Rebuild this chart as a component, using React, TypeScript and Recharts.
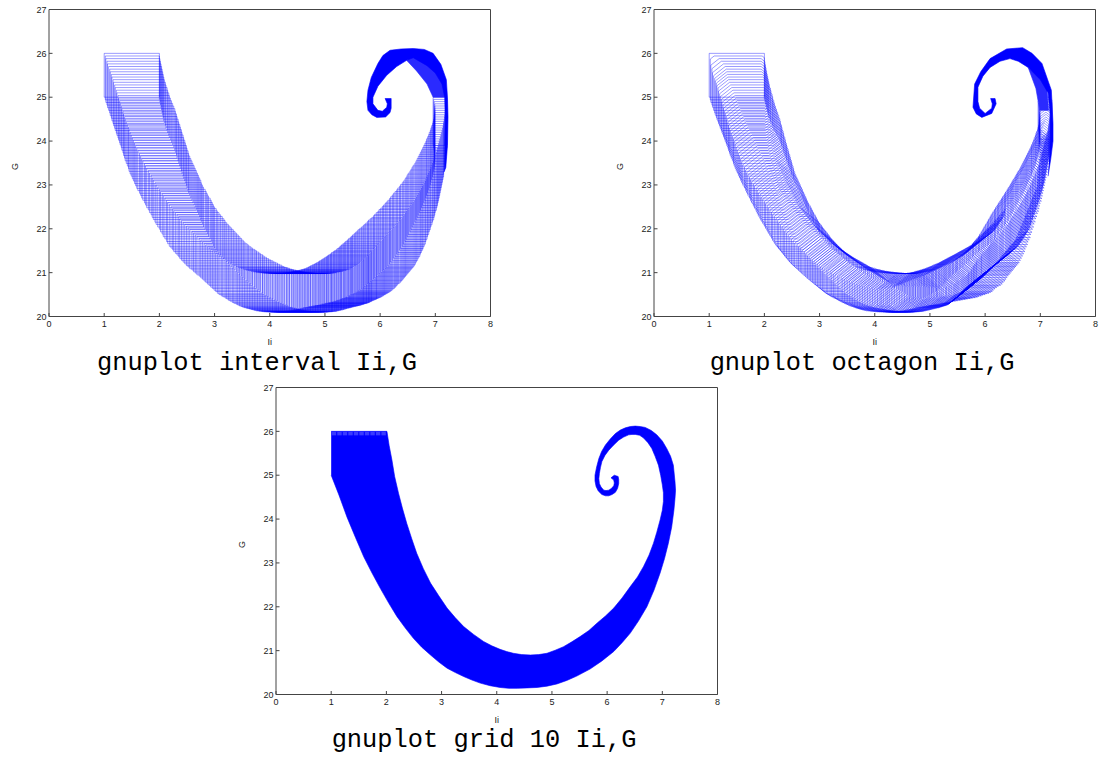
import { ComposedChart, Line, Scatter, XAxis, YAxis } from 'recharts';

const xTicks = [0, 1, 2, 3, 4, 5, 6, 7, 8];
const yTicks = [20, 21, 22, 23, 24, 25, 26, 27];
const BLUE = '#0000ff';

// box bounds per iteration
const boxXLow = [
  1.00,1.02,1.03,1.05,1.06,1.08,1.10,1.11,1.13,1.14,
  1.16,1.17,1.19,1.20,1.22,1.23,1.25,1.26,1.28,1.29,
  1.31,1.32,1.34,1.35,1.37,1.38,1.40,1.42,1.44,1.45,
  1.47,1.49,1.51,1.53,1.55,1.57,1.59,1.61,1.64,1.66,
  1.68,1.70,1.73,1.75,1.77,1.80,1.82,1.85,1.87,1.89,
  1.92,1.94,1.97,2.00,2.02,2.05,2.07,2.10,2.13,2.15,
  2.18,2.21,2.24,2.26,2.29,2.32,2.35,2.37,2.40,2.43,
  2.46,2.49,2.52,2.55,2.59,2.62,2.65,2.68,2.72,2.75,
  2.78,2.81,2.84,2.87,2.90,2.93,2.96,2.99,3.02,3.05,
  3.08,3.12,3.15,3.19,3.22,3.25,3.28,3.32,3.35,3.39,
  3.42,3.45,3.48,3.51,3.54,3.57,3.60,3.63,3.66,3.69,
  3.72,3.75,3.78,3.81,3.84,3.87,3.90,3.93,3.96,3.99,
  4.02,4.05,4.08,4.11,4.13,4.16,4.19,4.22,4.24,4.27,
  4.30,4.33,4.36,4.39,4.42,4.45,4.48,4.51,4.54,4.57,
  4.60,4.63,4.66,4.69,4.71,4.74,4.77,4.80,4.82,4.85,
  4.88,4.90,4.93,4.95,4.98,5.00,5.03,5.05,5.07,5.10,
  5.12,5.15,5.17,5.20,5.22,5.25,5.27,5.29,5.31,5.34,
  5.36,5.38,5.41,5.43,5.46,5.48,5.50,5.53,5.55,5.58,
  5.60,5.63,5.66,5.69,5.71,5.74,5.77,5.79,5.82,5.85,
  5.88,5.90,5.93,5.96,5.98,6.01,6.04,6.06,6.09,6.11,
  6.14,6.17,6.19,6.22,6.24,6.27,6.30,6.32,6.35,6.37,
  6.40,6.42,6.45,6.47,6.49,6.51,6.54,6.56,6.58,6.60,
  6.63,6.65,6.67,6.69,6.71,6.73,6.75,6.77,6.79,6.81,
  6.83,6.84,6.86,6.88,6.89,6.91,6.92,6.93,6.95,6.96,
  6.97,6.98,6.98,6.99,6.99,6.99,6.99,6.99,6.98,6.97,
  6.96,
];
const boxXHigh = [
  2.00,2.00,2.01,2.02,2.03,2.04,2.05,2.06,2.07,2.08,
  2.09,2.11,2.12,2.14,2.15,2.17,2.18,2.20,2.22,2.24,
  2.26,2.28,2.29,2.31,2.32,2.34,2.35,2.37,2.38,2.40,
  2.41,2.43,2.44,2.46,2.47,2.49,2.50,2.52,2.53,2.55,
  2.57,2.59,2.61,2.63,2.65,2.67,2.69,2.71,2.73,2.75,
  2.76,2.78,2.80,2.83,2.85,2.87,2.89,2.92,2.94,2.96,
  2.98,3.00,3.03,3.05,3.08,3.11,3.14,3.17,3.19,3.22,
  3.25,3.28,3.31,3.34,3.37,3.40,3.43,3.46,3.49,3.52,
  3.55,3.59,3.62,3.66,3.69,3.73,3.76,3.80,3.83,3.87,
  3.90,3.94,3.98,4.02,4.06,4.10,4.14,4.18,4.22,4.26,
  4.30,4.33,4.36,4.40,4.43,4.47,4.50,4.53,4.56,4.59,
  4.62,4.65,4.68,4.71,4.74,4.77,4.80,4.83,4.86,4.89,
  4.92,4.95,4.98,5.00,5.03,5.06,5.09,5.12,5.14,5.17,
  5.20,5.22,5.25,5.28,5.30,5.33,5.35,5.38,5.40,5.43,
  5.45,5.47,5.49,5.51,5.53,5.56,5.58,5.60,5.62,5.64,
  5.66,5.68,5.70,5.71,5.73,5.75,5.76,5.78,5.79,5.81,
  5.82,5.84,5.85,5.87,5.89,5.91,5.93,5.94,5.96,5.98,
  6.00,6.02,6.04,6.06,6.08,6.10,6.12,6.14,6.16,6.18,
  6.20,6.22,6.25,6.27,6.29,6.31,6.33,6.36,6.38,6.40,
  6.42,6.44,6.46,6.48,6.50,6.52,6.54,6.56,6.58,6.60,
  6.62,6.64,6.66,6.68,6.70,6.72,6.73,6.75,6.77,6.78,
  6.80,6.82,6.83,6.85,6.86,6.88,6.89,6.91,6.92,6.94,
  6.95,6.97,6.98,6.99,7.00,7.02,7.03,7.04,7.05,7.06,
  7.07,7.08,7.09,7.10,7.11,7.12,7.13,7.14,7.15,7.15,
  7.16,7.17,7.17,7.18,7.18,7.19,7.19,7.20,7.20,7.21,
  7.21,
];
const boxYLow = [
  25.00,24.94,24.88,24.82,24.76,24.70,24.64,24.58,24.52,24.46,
  24.40,24.35,24.29,24.24,24.18,24.13,24.07,24.02,23.96,23.91,
  23.85,23.79,23.73,23.67,23.61,23.55,23.49,23.43,23.37,23.31,
  23.25,23.20,23.14,23.09,23.03,22.98,22.92,22.87,22.81,22.76,
  22.70,22.65,22.59,22.54,22.48,22.43,22.37,22.32,22.26,22.21,
  22.15,22.10,22.04,21.99,21.93,21.88,21.82,21.77,21.71,21.66,
  21.60,21.56,21.52,21.48,21.44,21.40,21.36,21.32,21.28,21.24,
  21.20,21.16,21.13,21.09,21.06,21.02,20.99,20.95,20.92,20.88,
  20.85,20.81,20.78,20.74,20.71,20.67,20.64,20.60,20.57,20.53,
  20.50,20.47,20.45,20.42,20.40,20.37,20.35,20.32,20.30,20.28,
  20.26,20.24,20.23,20.21,20.20,20.19,20.18,20.17,20.16,20.15,
  20.14,20.13,20.13,20.12,20.12,20.11,20.11,20.11,20.11,20.10,
  20.10,20.10,20.10,20.10,20.10,20.10,20.11,20.11,20.11,20.12,
  20.12,20.12,20.13,20.14,20.15,20.15,20.16,20.17,20.18,20.19,
  20.20,20.20,20.21,20.22,20.22,20.23,20.24,20.24,20.25,20.25,
  20.26,20.27,20.28,20.28,20.29,20.30,20.30,20.31,20.31,20.32,
  20.33,20.34,20.35,20.36,20.37,20.38,20.39,20.40,20.41,20.42,
  20.43,20.44,20.46,20.47,20.49,20.50,20.52,20.53,20.55,20.56,
  20.58,20.60,20.63,20.65,20.68,20.71,20.74,20.76,20.79,20.82,
  20.85,20.88,20.91,20.94,20.97,21.00,21.03,21.06,21.09,21.12,
  21.15,21.19,21.24,21.28,21.33,21.37,21.42,21.46,21.51,21.55,
  21.60,21.65,21.71,21.76,21.82,21.87,21.93,21.98,22.04,22.09,
  22.15,22.20,22.26,22.31,22.37,22.42,22.48,22.53,22.59,22.64,
  22.70,22.76,22.82,22.88,22.94,23.00,23.06,23.12,23.18,23.24,
  23.30,23.36,23.42,23.48,23.54,23.60,23.66,23.72,23.78,23.84,
  23.90,
];
const boxYHigh = [
  26.00,25.94,25.88,25.82,25.76,25.70,25.64,25.58,25.52,25.46,
  25.40,25.34,25.28,25.22,25.16,25.10,25.04,24.98,24.92,24.86,
  24.80,24.74,24.68,24.62,24.56,24.50,24.44,24.38,24.32,24.26,
  24.20,24.14,24.08,24.02,23.96,23.90,23.84,23.78,23.72,23.66,
  23.60,23.55,23.49,23.44,23.38,23.33,23.27,23.22,23.16,23.11,
  23.05,23.00,22.95,22.90,22.85,22.80,22.75,22.70,22.65,22.60,
  22.55,22.50,22.46,22.41,22.37,22.32,22.28,22.23,22.19,22.14,
  22.10,22.06,22.02,21.98,21.94,21.90,21.86,21.82,21.78,21.74,
  21.70,21.66,21.63,21.59,21.56,21.53,21.50,21.47,21.44,21.41,
  21.38,21.35,21.32,21.29,21.27,21.24,21.22,21.19,21.17,21.14,
  21.12,21.11,21.10,21.08,21.07,21.06,21.05,21.04,21.03,21.02,
  21.02,21.01,21.01,21.00,21.00,20.99,20.99,20.99,20.98,20.98,
  20.98,20.98,20.98,20.98,20.98,20.98,20.98,20.98,20.99,20.99,
  21.00,21.00,21.01,21.02,21.03,21.03,21.04,21.05,21.06,21.07,
  21.08,21.09,21.11,21.12,21.14,21.16,21.18,21.19,21.21,21.23,
  21.25,21.27,21.29,21.31,21.33,21.35,21.37,21.39,21.41,21.43,
  21.46,21.48,21.50,21.52,21.55,21.57,21.60,21.62,21.65,21.67,
  21.70,21.72,21.75,21.78,21.81,21.83,21.86,21.89,21.92,21.95,
  21.98,22.01,22.04,22.07,22.10,22.13,22.17,22.20,22.23,22.26,
  22.30,22.33,22.37,22.40,22.44,22.47,22.51,22.54,22.58,22.61,
  22.65,22.69,22.73,22.77,22.81,22.85,22.89,22.93,22.97,23.01,
  23.05,23.09,23.14,23.18,23.23,23.27,23.32,23.36,23.41,23.45,
  23.50,23.55,23.60,23.65,23.70,23.75,23.80,23.85,23.90,23.95,
  24.00,24.05,24.10,24.15,24.20,24.25,24.30,24.35,24.40,24.45,
  24.50,24.55,24.60,24.65,24.70,24.75,24.80,24.85,24.90,24.95,
  25.00,
];

// diagonal bounds of the octagons (x+y and y-x), same iterations as the boxes
const sumLow = [
  26.00,25.96,25.91,25.87,25.83,25.78,25.74,25.70,25.67,25.63,
  25.60,25.56,25.53,25.49,25.46,25.42,25.39,25.35,25.32,25.28,
  25.25,25.21,25.17,25.13,25.09,25.05,25.01,24.97,24.93,24.89,
  24.85,24.81,24.78,24.74,24.71,24.67,24.64,24.60,24.57,24.53,
  24.50,24.46,24.43,24.39,24.36,24.32,24.29,24.25,24.22,24.18,
  24.15,24.12,24.09,24.06,24.03,24.00,23.97,23.94,23.91,23.88,
  23.85,23.83,23.82,23.80,23.79,23.77,23.76,23.74,23.73,23.71,
  23.70,23.69,23.69,23.68,23.68,23.67,23.67,23.66,23.66,23.65,
  23.65,23.65,23.65,23.65,23.65,23.65,23.65,23.65,23.65,23.65,
  23.65,23.66,23.67,23.68,23.70,23.71,23.72,23.73,23.75,23.76,
  23.78,23.79,23.81,23.83,23.85,23.86,23.88,23.89,23.91,23.93,
  23.95,23.98,24.02,24.05,24.09,24.12,24.16,24.19,24.23,24.26,
  24.30,24.32,24.35,24.37,24.40,24.42,24.45,24.47,24.50,24.52,
  24.55,24.59,24.63,24.67,24.71,24.75,24.79,24.83,24.87,24.91,
  24.95,24.98,25.02,25.05,25.09,25.12,25.16,25.19,25.23,25.26,
  25.30,25.34,25.38,25.42,25.46,25.50,25.54,25.58,25.62,25.66,
  25.70,25.75,25.81,25.86,25.92,25.97,26.03,26.08,26.14,26.19,
  26.25,26.30,26.35,26.40,26.45,26.50,26.55,26.60,26.65,26.70,
  26.75,26.81,26.87,26.93,26.99,27.05,27.11,27.17,27.23,27.29,
  27.35,27.40,27.45,27.50,27.55,27.60,27.65,27.70,27.75,27.80,
  27.85,27.92,27.99,28.06,28.13,28.20,28.27,28.34,28.41,28.48,
  28.55,28.62,28.70,28.77,28.85,28.92,29.00,29.07,29.15,29.22,
  29.30,29.37,29.44,29.51,29.58,29.65,29.72,29.79,29.86,29.93,
  30.00,30.07,30.14,30.21,30.28,30.35,30.42,30.49,30.56,30.63,
  30.70,30.75,30.81,30.86,30.92,30.97,31.03,31.08,31.14,31.19,
  31.25,
];
const sumHigh = [
  28.00,27.90,27.82,27.76,27.70,27.64,27.58,27.53,27.48,27.43,
  27.38,27.32,27.27,27.21,27.16,27.10,27.05,27.00,26.95,26.90,
  26.85,26.79,26.74,26.68,26.63,26.57,26.52,26.46,26.41,26.35,
  26.30,26.25,26.20,26.15,26.10,26.05,26.00,25.95,25.90,25.85,
  25.80,25.76,25.73,25.69,25.66,25.62,25.59,25.55,25.52,25.48,
  25.45,25.42,25.39,25.36,25.33,25.30,25.27,25.24,25.21,25.18,
  25.15,25.13,25.12,25.10,25.08,25.06,25.05,25.03,25.01,24.99,
  24.98,24.97,24.96,24.95,24.94,24.94,24.93,24.92,24.91,24.90,
  24.90,24.90,24.91,24.91,24.92,24.92,24.93,24.93,24.94,24.94,
  24.95,24.96,24.97,24.98,24.99,25.00,25.01,25.02,25.03,25.04,
  25.05,25.07,25.10,25.12,25.15,25.17,25.20,25.22,25.25,25.27,
  25.30,25.33,25.36,25.39,25.42,25.45,25.48,25.51,25.54,25.57,
  25.60,25.62,25.65,25.67,25.70,25.72,25.75,25.77,25.80,25.82,
  25.85,25.88,25.92,25.95,25.99,26.02,26.06,26.09,26.13,26.16,
  26.20,26.24,26.28,26.32,26.36,26.40,26.44,26.48,26.52,26.56,
  26.60,26.64,26.69,26.73,26.78,26.82,26.87,26.91,26.96,27.00,
  27.05,27.09,27.14,27.18,27.23,27.27,27.32,27.36,27.41,27.45,
  27.50,27.55,27.60,27.65,27.70,27.75,27.80,27.85,27.90,27.95,
  28.00,28.05,28.11,28.16,28.22,28.27,28.33,28.38,28.44,28.49,
  28.55,28.61,28.67,28.73,28.79,28.85,28.91,28.97,29.03,29.09,
  29.15,29.21,29.27,29.33,29.39,29.45,29.51,29.57,29.63,29.69,
  29.75,29.81,29.87,29.93,29.99,30.05,30.11,30.17,30.23,30.29,
  30.35,30.41,30.48,30.54,30.61,30.67,30.74,30.80,30.87,30.93,
  31.00,31.06,31.12,31.18,31.24,31.30,31.36,31.42,31.48,31.54,
  31.60,31.65,31.71,31.76,31.82,31.87,31.93,31.98,32.04,32.09,
  32.15,
];
const diffLow = [
  23.00,22.94,22.88,22.82,22.76,22.70,22.64,22.58,22.52,22.46,
  22.40,22.34,22.28,22.22,22.16,22.10,22.04,21.98,21.92,21.86,
  21.80,21.73,21.66,21.59,21.52,21.45,21.38,21.31,21.24,21.17,
  21.10,21.03,20.97,20.90,20.84,20.77,20.71,20.64,20.58,20.51,
  20.45,20.37,20.30,20.22,20.15,20.07,20.00,19.92,19.85,19.77,
  19.70,19.62,19.55,19.47,19.40,19.32,19.25,19.17,19.10,19.02,
  18.95,18.88,18.82,18.75,18.69,18.62,18.56,18.49,18.43,18.36,
  18.30,18.23,18.17,18.10,18.04,17.97,17.91,17.84,17.78,17.71,
  17.65,17.58,17.52,17.45,17.39,17.32,17.26,17.19,17.13,17.06,
  17.00,16.94,16.88,16.82,16.76,16.70,16.64,16.58,16.52,16.46,
  16.40,16.34,16.29,16.23,16.18,16.12,16.07,16.01,15.96,15.90,
  15.85,15.81,15.78,15.74,15.71,15.67,15.64,15.60,15.57,15.53,
  15.50,15.47,15.45,15.42,15.40,15.37,15.35,15.32,15.30,15.27,
  15.25,15.23,15.21,15.19,15.17,15.15,15.13,15.11,15.09,15.07,
  15.05,15.04,15.03,15.02,15.01,15.00,14.99,14.98,14.97,14.96,
  14.95,14.95,14.95,14.95,14.95,14.95,14.95,14.95,14.95,14.95,
  14.95,14.95,14.95,14.95,14.95,14.95,14.95,14.95,14.95,14.95,
  14.95,14.95,14.96,14.96,14.97,14.97,14.98,14.98,14.99,14.99,
  15.00,15.00,15.00,15.00,15.00,15.00,15.00,15.00,15.00,15.00,
  15.00,15.00,15.00,15.00,15.00,15.01,15.01,15.01,15.01,15.02,
  15.02,15.04,15.06,15.08,15.09,15.11,15.13,15.15,15.16,15.18,
  15.20,15.24,15.28,15.32,15.36,15.40,15.44,15.48,15.52,15.56,
  15.60,15.64,15.68,15.72,15.76,15.80,15.84,15.88,15.92,15.96,
  16.00,16.05,16.11,16.16,16.22,16.27,16.33,16.38,16.44,16.49,
  16.55,16.60,16.65,16.70,16.75,16.80,16.85,16.90,16.95,17.00,
  17.05,
];
const diffHigh = [
  25.00,24.85,24.70,24.60,24.50,24.41,24.33,24.26,24.19,24.12,
  24.05,23.97,23.89,23.81,23.73,23.65,23.57,23.49,23.41,23.33,
  23.25,23.17,23.09,23.01,22.93,22.85,22.77,22.69,22.61,22.53,
  22.45,22.36,22.28,22.19,22.11,22.02,21.94,21.85,21.77,21.68,
  21.60,21.52,21.45,21.37,21.30,21.22,21.15,21.07,21.00,20.92,
  20.85,20.77,20.70,20.62,20.55,20.47,20.40,20.32,20.25,20.17,
  20.10,20.02,19.95,19.87,19.80,19.72,19.65,19.57,19.50,19.42,
  19.35,19.27,19.20,19.12,19.05,18.97,18.90,18.82,18.75,18.67,
  18.60,18.54,18.48,18.42,18.36,18.30,18.24,18.18,18.12,18.06,
  18.00,17.94,17.89,17.83,17.78,17.72,17.67,17.61,17.56,17.50,
  17.45,17.40,17.36,17.31,17.27,17.22,17.18,17.13,17.09,17.04,
  17.00,16.96,16.92,16.88,16.84,16.80,16.76,16.72,16.68,16.64,
  16.60,16.57,16.55,16.52,16.50,16.47,16.45,16.42,16.40,16.37,
  16.35,16.33,16.32,16.30,16.29,16.27,16.26,16.24,16.23,16.21,
  16.20,16.18,16.17,16.15,16.14,16.12,16.11,16.09,16.08,16.06,
  16.05,16.04,16.03,16.02,16.01,16.00,15.99,15.98,15.97,15.96,
  15.95,15.94,15.93,15.92,15.91,15.90,15.89,15.88,15.87,15.86,
  15.85,15.84,15.84,15.83,15.83,15.82,15.81,15.81,15.80,15.80,
  15.80,15.81,15.83,15.84,15.86,15.87,15.89,15.90,15.92,15.93,
  15.95,15.98,16.01,16.04,16.07,16.10,16.13,16.16,16.19,16.22,
  16.25,16.27,16.30,16.32,16.35,16.37,16.40,16.42,16.45,16.47,
  16.50,16.52,16.55,16.57,16.60,16.62,16.65,16.67,16.70,16.72,
  16.75,16.78,16.81,16.84,16.87,16.90,16.93,16.96,16.99,17.02,
  17.05,17.08,17.12,17.15,17.19,17.22,17.26,17.29,17.33,17.36,
  17.40,17.45,17.51,17.56,17.62,17.67,17.73,17.78,17.84,17.89,
  17.95,
];

// saturated rim and tail of the spiral, outlined as [x, y]
const intervalTail = [
  [7.16,23.30],[7.19,23.40],[7.22,23.90],[7.23,24.55],[7.22,25.00],[7.20,25.40],[7.10,25.75],[6.96,26.00],[6.80,26.09],[6.60,26.11],
  [6.38,26.10],[6.18,26.07],[6.05,25.95],[5.96,25.77],[5.84,25.45],[5.78,25.16],[5.76,24.90],[5.78,24.70],[5.85,24.60],[5.94,24.54],
  [6.10,24.55],[6.18,24.65],[6.20,24.75],[6.20,24.97],[6.09,24.97],[6.13,24.85],[6.12,24.77],[6.04,24.68],[5.96,24.70],[5.87,24.85],
  [5.87,25.00],[5.96,25.25],[6.12,25.50],[6.30,25.70],[6.48,25.84],[6.60,25.90],[6.85,25.72],[7.00,25.55],[7.12,25.30],[7.17,25.00],
  [7.18,24.50],[7.17,23.90],
];
const intervalShoulder = [
  [6.48,25.84],[6.66,25.60],[6.85,25.30],[6.96,25.00],[7.20,25.00],[7.15,25.50],[6.85,25.80],[6.60,25.95],
];
const octagonTail = [
  [7.14,23.20],[7.19,23.60],[7.23,24.00],[7.23,24.40],[7.20,25.16],[7.03,25.77],[6.85,26.00],[6.68,26.13],[6.39,26.10],[6.09,25.88],
  [5.92,25.58],[5.81,25.30],[5.78,24.77],[5.84,24.62],[5.94,24.54],[6.12,24.63],[6.20,24.85],[6.18,24.97],[6.10,24.97],[6.13,24.85],
  [6.12,24.75],[6.00,24.63],[5.90,24.75],[5.87,24.90],[5.87,25.23],[5.96,25.48],[6.09,25.68],[6.27,25.82],[6.45,25.88],[6.60,25.82],
  [6.78,25.68],[7.00,25.40],[7.14,25.10],[7.18,24.60],[7.18,24.00],[7.16,23.60],
];
const octagonShoulder = [
  [6.78,25.68],[6.92,25.20],[6.99,24.70],[7.15,24.70],[7.12,25.20],[6.95,25.50],
];

// outline of the grid reachable set
const gridOuter = [
  [1,25],[1.14,24.55],[1.285,24.05],[1.44,23.58],[1.59,23.14],[1.74,22.77],[1.89,22.42],[2.04,22.09],[2.19,21.78],[2.34,21.52],
  [2.49,21.28],[2.64,21.08],[2.80,20.90],[2.95,20.74],[3.10,20.60],[3.25,20.50],[3.40,20.41],[3.55,20.33],[3.70,20.26],[3.88,20.20],
  [4.06,20.16],[4.22,20.14],[4.37,20.14],[4.55,20.15],[4.73,20.16],[4.91,20.19],[5.09,20.24],[5.27,20.32],[5.45,20.42],[5.69,20.58],
  [5.90,20.76],[6.12,20.98],[6.27,21.18],[6.42,21.40],[6.57,21.68],[6.72,22.00],[6.85,22.38],[6.96,22.77],[7.04,23.10],[7.11,23.45],
  [7.17,23.82],[7.21,24.20],[7.23,24.47],[7.24,24.66],[7.23,24.85],[7.20,25.23],[7.15,25.43],[7.08,25.61],[7.00,25.78],[6.90,25.92],
  [6.80,26.02],[6.69,26.09],[6.60,26.11],[6.51,26.12],[6.42,26.11],[6.33,26.08],[6.24,26.03],[6.15,25.95],[6.06,25.83],[5.97,25.69],
  [5.90,25.54],[5.85,25.38],[5.81,25.19],[5.78,25.00],[5.78,24.87],[5.80,24.74],[5.84,24.64],[5.905,24.56],[5.97,24.53],[6.03,24.53],
  [6.09,24.56],[6.15,24.61],[6.19,24.70],[6.21,24.81],[6.21,24.90],[6.20,24.97],[6.13,25.00],
];
const gridInner = [
  [6.07,24.94],[6.12,24.89],[6.13,24.82],[6.12,24.76],[6.08,24.70],[6.03,24.66],[5.98,24.65],[5.94,24.66],[5.89,24.73],[5.86,24.81],
  [5.85,24.92],[5.86,25.04],[5.88,25.18],[5.905,25.31],[5.96,25.45],[6.03,25.57],[6.12,25.69],[6.21,25.80],[6.30,25.87],[6.39,25.92],
  [6.45,25.93],[6.51,25.93],[6.59,25.91],[6.66,25.85],[6.74,25.74],[6.81,25.61],[6.87,25.43],[6.93,25.23],[6.97,25.00],[7.00,24.78],
  [7.02,24.60],[7.02,24.40],[7.00,24.20],[6.96,23.98],[6.90,23.70],[6.84,23.45],[6.76,23.18],[6.66,22.92],[6.55,22.68],[6.42,22.46],
  [6.27,22.20],[6.12,21.97],[5.97,21.79],[5.82,21.63],[5.67,21.46],[5.51,21.32],[5.36,21.20],[5.21,21.09],[5.06,21.01],[4.91,20.94],
  [4.76,20.91],[4.61,20.90],[4.45,20.91],[4.30,20.94],[4.18,20.98],[4.06,21.03],[3.91,21.11],[3.76,21.21],[3.58,21.37],[3.40,21.55],
  [3.25,21.75],[3.10,21.97],[2.95,22.25],[2.80,22.54],[2.67,22.87],[2.55,23.22],[2.46,23.55],[2.37,23.90],[2.29,24.25],[2.22,24.59],
  [2.15,24.97],[2.10,25.35],[2.05,25.68],[2.01,26.00],[1,26.00],
];
const gridTopCellsX = [1.05, 1.15, 1.25, 1.35, 1.45, 1.55, 1.65, 1.75, 1.85, 1.95];
const gridTopCellY = 25.95;

const rows = Math.min(boxXLow.length, boxXHigh.length, boxYLow.length, boxYHigh.length);
const pairs = (list: number[][]) => list.map(([x, y]) => ({ x, y }));

// closed outlines separated by null so one Line draws them all
const intervalPath: { x: number; y: number | null }[] = [];
for (let i = 0; i < rows; i++) {
  const [a, b, c, d] = [boxXLow[i], boxXHigh[i], boxYLow[i], boxYHigh[i]];
  intervalPath.push({ x: a, y: c }, { x: a, y: d }, { x: b, y: d }, { x: b, y: c }, { x: a, y: c }, { x: a, y: null });
}

const octagonPath: { x: number; y: number | null }[] = [];
for (let i = 0; i < rows; i++) {
  const [sl, sh, dl, dh] = [sumLow[i], sumHigh[i], diffLow[i], diffHigh[i]];
  // tighten the box against the diagonals before taking the corners
  const a = Math.max(boxXLow[i], sl - boxYHigh[i], boxYLow[i] - dh);
  const b = Math.min(boxXHigh[i], sh - boxYLow[i], boxYHigh[i] - dl);
  const c = Math.max(boxYLow[i], sl - boxXHigh[i], boxXLow[i] + dl);
  const d = Math.min(boxYHigh[i], sh - boxXLow[i], boxXHigh[i] + dh);
  const first = { x: a, y: Math.max(c, sl - a) };
  octagonPath.push(
    first,
    { x: a, y: Math.min(d, a + dh) },
    { x: Math.max(a, d - dh), y: d },
    { x: Math.min(b, sh - d), y: d },
    { x: b, y: Math.min(d, sh - b) },
    { x: b, y: Math.max(c, b + dl) },
    { x: Math.min(b, c - dl), y: c },
    { x: Math.max(a, sl - c), y: c },
    first,
    { x: a, y: null },
  );
}

const PLOT_W = 441.5;
const PLOT_H = 307;
const frame = '#444';
const tickFont = { fontSize: 9, fontFamily: 'Liberation Sans', fill: '#222' };

function filledOutline(points: number[][], color = BLUE) {
  return (
    <Scatter
      data={pairs(points)}
      dataKey="y"
      isAnimationActive={false}
      shape={() => null}
      line={{ fill: color, stroke: color, strokeWidth: 0.6 }}
    />
  );
}

function Plot({ left, top, title, titleX, children }: { left: number; top: number; title: string; titleX: number; children: any }) {
  return (
    <>
      <div style={{ position: 'absolute', left: left - 49, top: top - 9.5 }}>
        <ComposedChart
          width={510}
          height={350}
          margin={{ left: 19, right: 510 - 49 - PLOT_W - 1, top: 8.5, bottom: 350 - 9.5 - PLOT_H - 30 }}
        >
          <XAxis
            dataKey="x" type="number" domain={[0, 8]} ticks={xTicks} height={30} interval={0}
            tickSize={-3.5} tickMargin={8} tick={tickFont} stroke={frame}
            label={{ value: 'Ii', position: 'bottom', offset: -8, fontSize: 9, fontFamily: 'Liberation Sans', fill: '#222' }}
          />
          <YAxis
            dataKey="y" type="number" domain={[20, 27]} ticks={yTicks} width={30} interval={0}
            tickSize={-3.5} tickMargin={6} tick={tickFont} stroke={frame}
            label={{ value: 'G', angle: -90, position: 'left', offset: 4, fontSize: 9, fontFamily: 'Liberation Sans', fill: '#222' }}
          />
          <XAxis xAxisId="top" orientation="top" type="number" domain={[0, 8]} ticks={xTicks} height={1} interval={0} tickSize={-3.5} tick={false} stroke={frame} />
          <YAxis yAxisId="right" orientation="right" type="number" domain={[20, 27]} ticks={yTicks} width={1} interval={0} tickSize={-3.5} tick={false} stroke={frame} />
          {children}
        </ComposedChart>
      </div>
      <div
        style={{
          position: 'absolute', left: titleX - 200, width: 400, top: top + 339, textAlign: 'center',
          fontFamily: 'Liberation Mono', fontSize: 25.4, lineHeight: '30px', color: '#000', whiteSpace: 'pre',
        }}
      >
        {title}
      </div>
    </>
  );
}

export default function App() {
  return (
    <div style={{ position: 'absolute', left: 0, top: 0, width: 1103, height: 757, background: '#fff' }}>
      <Plot left={49} top={9.5} title="gnuplot interval Ii,G" titleX={257}>
        {filledOutline(intervalShoulder, '#2a2aff')}
        <Line data={intervalPath} dataKey="y" stroke={BLUE} strokeWidth={0.4} dot={false} isAnimationActive={false} legendType="none" />
        {filledOutline(intervalTail)}
      </Plot>
      <Plot left={654} top={9.5} title="gnuplot octagon Ii,G" titleX={862}>
        {filledOutline(octagonShoulder, '#2a2aff')}
        <Line data={octagonPath} dataKey="y" stroke={BLUE} strokeWidth={0.4} dot={false} isAnimationActive={false} legendType="none" />
        {filledOutline(octagonTail)}
      </Plot>
      <Plot left={275.7} top={387.4} title="gnuplot grid 10 Ii,G" titleX={484}>
        {filledOutline([...gridOuter, ...gridInner])}
        <Scatter
          data={gridTopCellsX.map((x) => ({ x, y: gridTopCellY }))}
          dataKey="y"
          isAnimationActive={false}
          shape={(p: any) => <rect x={p.cx - 2.2} y={p.cy - 1.8} width={4.4} height={3.6} fill="#3a3aff" />}
        />
      </Plot>
    </div>
  );
}
